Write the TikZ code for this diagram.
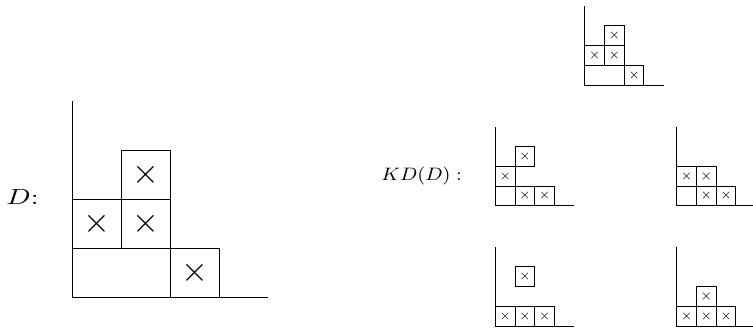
\documentclass[tikz,border=0pt]{standalone}
\usepackage{graphicx}
\begin{document}
\begin{tikzpicture}[x=0.5pt,y=-0.5pt,
  ax/.style={line width=0.5pt},
  bcell/.style={draw, line width=0.5pt, minimum size=24.5pt, inner sep=0pt, font=\fontsize{18}{18}\selectfont},
  scell/.style={draw, line width=0.5pt, minimum size=9.875pt, inner sep=0pt, font=\fontsize{6.3}{6.3}\selectfont},
  lab/.style={inner sep=0pt, anchor=base west}]
\useasboundingbox (0,0) rectangle (753,327);

% ---------- big diagram D ----------
\begin{scope}[shift={(72,297)}]
  \node[bcell, minimum width=49pt] (D00) at (49,-24.5) {};
  \node[bcell] (D20) at (122.5,-24.5) {$\times$};
  \node[bcell] (D01) at (24.5,-73.5) {$\times$};
  \node[bcell] (D11) at (73.5,-73.5) {$\times$};
  \node[bcell] (D12) at (73.5,-122.5) {$\times$};
  \coordinate (Dtop) at (0,-196);
  \coordinate (Do) at (0,0);
  \coordinate (Dend) at (196,0);
  \draw[ax] (Dtop) -- (Do) -- (Dend);
\end{scope}
\node[lab, font=\fontsize{10.75}{12}\selectfont] (Dlab) at (6,204) {\scalebox{1.3}[1]{$D$:}};

% ---------- KD(D) label ----------
\node[lab, font=\fontsize{8.6}{10}\selectfont] (KDlab) at (381,180) {\scalebox{1.1}[1]{$KD(D):$}};

% ---------- top: D itself ----------
\begin{scope}[shift={(584.7,85)}]
  \node[scell, minimum width=19.75pt] (T00) at (19.75,-9.875) {};
  \node[scell] (T20) at (49.375,-9.875) {$\times$};
  \node[scell] (T01) at (9.875,-29.625) {$\times$};
  \node[scell] (T11) at (29.625,-29.625) {$\times$};
  \node[scell] (T12) at (29.625,-49.375) {$\times$};
  \coordinate (Ttop) at (0,-79);
  \coordinate (To) at (0,0);
  \coordinate (Tend) at (79,0);
  \draw[ax] (Ttop) -- (To) -- (Tend);
\end{scope}

% ---------- middle left ----------
\begin{scope}[shift={(495.3,205.8)}]
  \node[scell] (A00) at (9.875,-9.875) {};
  \node[scell] (A10) at (29.625,-9.875) {$\times$};
  \node[scell] (A20) at (49.375,-9.875) {$\times$};
  \node[scell] (A01) at (9.875,-29.625) {$\times$};
  \node[scell] (A12) at (29.625,-49.375) {$\times$};
  \coordinate (Atop) at (0,-79);
  \coordinate (Ao) at (0,0);
  \coordinate (Aend) at (79,0);
  \draw[ax] (Atop) -- (Ao) -- (Aend);
\end{scope}

% ---------- middle right ----------
\begin{scope}[shift={(676.7,205.8)}]
  \node[scell] (B00) at (9.875,-9.875) {};
  \node[scell] (B10) at (29.625,-9.875) {$\times$};
  \node[scell] (B20) at (49.375,-9.875) {$\times$};
  \node[scell] (B01) at (9.875,-29.625) {$\times$};
  \node[scell] (B11) at (29.625,-29.625) {$\times$};
  \coordinate (Btop) at (0,-79);
  \coordinate (Bo) at (0,0);
  \coordinate (Bend) at (79,0);
  \draw[ax] (Btop) -- (Bo) -- (Bend);
\end{scope}

% ---------- bottom left ----------
\begin{scope}[shift={(495.3,326)}]
  \node[scell] (C00) at (9.875,-9.875) {$\times$};
  \node[scell] (C10) at (29.625,-9.875) {$\times$};
  \node[scell] (C20) at (49.375,-9.875) {$\times$};
  \node[scell] (C12) at (29.625,-49.375) {$\times$};
  \coordinate (Ctop) at (0,-79);
  \coordinate (Co) at (0,0);
  \coordinate (Cend) at (79,0);
  \draw[ax] (Ctop) -- (Co) -- (Cend);
\end{scope}

% ---------- bottom right ----------
\begin{scope}[shift={(676.7,326)}]
  \node[scell] (E00) at (9.875,-9.875) {$\times$};
  \node[scell] (E10) at (29.625,-9.875) {$\times$};
  \node[scell] (E20) at (49.375,-9.875) {$\times$};
  \node[scell] (E11) at (29.625,-29.625) {$\times$};
  \coordinate (Etop) at (0,-79);
  \coordinate (Eo) at (0,0);
  \coordinate (Eend) at (79,0);
  \draw[ax] (Etop) -- (Eo) -- (Eend);
\end{scope}
\end{tikzpicture}
\end{document}
